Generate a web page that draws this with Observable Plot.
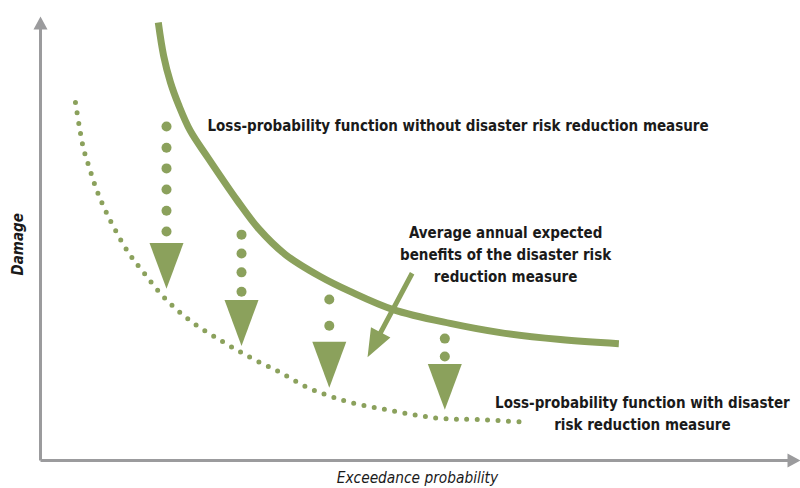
<!DOCTYPE html>
<html>
<head>
<meta charset="utf-8">
<script src="https://cdn.jsdelivr.net/npm/d3@7"></script>
<script src="https://cdn.jsdelivr.net/npm/@observablehq/plot@0.6"></script>
<style>
  html, body { margin: 0; padding: 0; background: #fff; }
  #chart svg { display: block; }
</style>
</head>
<body>
<div id="chart"></div>
<script>
// Loss-probability function without the measure (solid curve)
const withoutX = [15.5, 16.2, 17.1, 18.2, 19.7, 22.0, 25.9, 28.7, 32.2, 36.8, 40.8, 46.4, 53.9, 60.5, 68.4, 76.1];
const withoutY = [95.2, 88.0, 82.2, 77.2, 71.7, 65.9, 56.5, 50.4, 44.8, 40.0, 36.7, 32.8, 29.8, 27.8, 26.3, 25.4];
// Loss-probability function with the measure (dotted curve)
const withX = [4.6, 5.13, 5.66, 6.45, 7.37, 8.42, 9.87, 11.58, 13.55, 16.3, 19.7, 23.7, 27.6, 31.6, 35.1, 37.9, 40.8, 44.7, 48.9, 53.0, 57.5, 64.1];
const withY = [77.8, 72.4, 67.8, 63.5, 58.9, 54.8, 50.0, 45.2, 40.9, 35.4, 30.4, 26.1, 22.4, 19.1, 15.9, 14.1, 12.6, 11.3, 10.0, 9.1, 8.9, 8.3];
// Downward benefit arrows: position, dotted shaft values, arrowhead value
const arrowX = [16.58, 26.45, 38.0, 53.2];
const arrowDots = [
  [72.6, 68.0, 63.5, 58.9, 54.3, 49.8],
  [49.1, 45.0, 40.9, 36.7],
  [35.0, 29.3],
  [26.5, 22.6]
];
const arrowHeadY = [42.3, 29.9, 20.8, 16.0];
// Pointer arrow start (annotation)
const pointerX = [48.9];
const pointerY = [40.7];
// Text labels
const curveLabel = "Loss-probability function without disaster risk reduction measure";
const curveLabelX = [21.97];
const curveLabelY = [72.6];
const centeredTexts = [
  "Average annual expected\nbenefits of the disaster risk\nreduction measure",
  "Loss-probability function with disaster\nrisk reduction measure"
];
const centeredX = [61.2, 79.2];
const centeredY = [45.2, 10.65];
const xTitle = "Exceedance probability";
const yTitle = "Damage";

const green = "#8ba15c";
const axisGray = "#9b9b9d";
const ink = "#1a1a1a";
const font = "'Liberation Sans Narrow', 'DejaVu Sans Condensed', 'Arial Narrow', sans-serif";

const solid = withoutX.map((x, i) => ({x, y: withoutY[i]}));
const dotted = withX.map((x, i) => ({x, y: withY[i]}));
const shaftDots = arrowX.flatMap((x, i) => arrowDots[i].map(y => ({x, y})));
const heads = arrowX.map((x, i) => ({x, y: arrowHeadY[i]}));
const centered = centeredTexts.map((t, i) => ({t, x: centeredX[i], y: centeredY[i]}));

const triDown = {
  draw(ctx, size) {
    const r = Math.sqrt(size / Math.PI);
    const h = r * 2.7;
    ctx.moveTo(-r, -h / 2);
    ctx.lineTo(r, -h / 2);
    ctx.lineTo(0, h / 2);
    ctx.closePath();
  }
};
function solidArrow(shaft, headLen) {
  return {
    draw(ctx, l, r) {
      const b = l - headLen;
      ctx.moveTo(-shaft / 2, 0);
      ctx.lineTo(-shaft / 2, -b);
      ctx.lineTo(-r, -b);
      ctx.lineTo(0, -l);
      ctx.lineTo(r, -b);
      ctx.lineTo(shaft / 2, -b);
      ctx.lineTo(shaft / 2, 0);
      ctx.closePath();
    }
  };
}

const chart = Plot.plot({
  width: 800,
  height: 488,
  marginLeft: 40,
  marginRight: 0,
  marginTop: 0,
  marginBottom: 28,
  x: {domain: [0, 100], axis: null},
  y: {domain: [0, 100], axis: null},
  style: {fontFamily: font, background: "#fff", overflow: "visible"},
  marks: [
    // axes with arrowheads
    Plot.vector([{x: 0, y: 0}], {x: "x", y: "y", anchor: "start", length: 444, rotate: 0, r: 7,
      shape: solidArrow(3, 13), fill: axisGray, stroke: "none"}),
    Plot.vector([{x: 0, y: 0}], {x: "x", y: "y", anchor: "start", length: 760, rotate: 90, r: 7,
      shape: solidArrow(3, 13), fill: axisGray, stroke: "none"}),
    // dotted curve
    Plot.line(dotted, {x: "x", y: "y", curve: "catmull-rom", stroke: green, strokeWidth: 5,
      strokeLinecap: "round", strokeDasharray: "0,10.4"}),
    // solid curve
    Plot.line(solid, {x: "x", y: "y", curve: "catmull-rom", stroke: green, strokeWidth: 7, strokeLinecap: "butt"}),
    // benefit arrows
    Plot.dot(shaftDots, {x: "x", y: "y", r: 5, fill: green, stroke: "none"}),
    Plot.dot(heads, {x: "x", y: "y", r: 17, symbol: triDown, fill: green, stroke: "none"}),
    // pointer arrow
    Plot.vector(pointerX.map((x, i) => ({x, y: pointerY[i]})), {x: "x", y: "y", anchor: "start", length: 95, rotate: 208, r: 11,
      shape: solidArrow(5, 28), fill: green, stroke: "none"}),
    // labels
    Plot.text([curveLabel], {x: curveLabelX[0], y: curveLabelY[0], text: d => d, textAnchor: "start", lineAnchor: "middle",
      fontSize: 15, fontWeight: "bold", fill: ink}),
    Plot.text(centered, {x: "x", y: "y", text: "t", textAnchor: "middle", lineAnchor: "middle", lineHeight: 1.47,
      fontSize: 15, fontWeight: "bold", fill: ink}),
    Plot.text([xTitle], {x: 49.6, y: -3.9, text: d => d, fontSize: 15.3, fontStyle: "italic", fill: ink, lineAnchor: "middle"}),
    Plot.text([yTitle], {x: -2.9, y: 47, text: d => d, fontSize: 15, fontStyle: "italic", fontWeight: "bold", fill: ink, rotate: -90, lineAnchor: "middle"})
  ]
});
document.getElementById("chart").appendChild(chart);
</script>
</body>
</html>
